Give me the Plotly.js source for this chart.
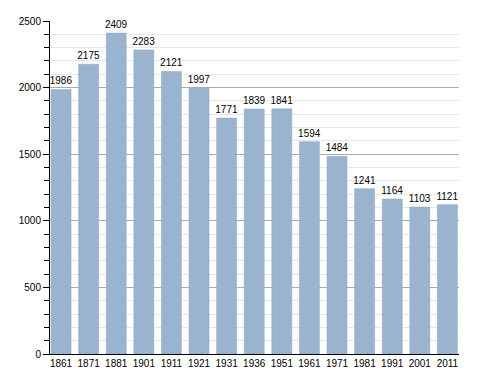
<!DOCTYPE html>
<html><head><meta charset="utf-8">
<script src="https://cdn.plot.ly/plotly-3.0.1.min.js"></script>
<style>body{margin:0}#c{width:488px;height:373px}</style>
</head><body><div id="c"></div>
<script>
const years = ["1861","1871","1881","1901","1911","1921","1931","1936","1951","1961","1971","1981","1991","2001","2011"];
const population = [1986,2175,2409,2283,2121,1997,1771,1839,1841,1594,1484,1241,1164,1103,1121];

Plotly.newPlot('c', [{
  type: 'bar',
  x: years,
  y: population,
  text: population.map(String),
  textposition: 'outside',
  constraintext: 'none',
  cliponaxis: false,
  textfont: {family: 'Liberation Sans, Arial, sans-serif', size: 10, color: '#000'},
  marker: {color: '#9ab4cf', line: {color: '#8aa5c2', width: 0.5}},
  hoverinfo: 'none'
}], {
  width: 488, height: 373,
  margin: {l: 50, r: 29, t: 21, b: 19},
  paper_bgcolor: '#fff', plot_bgcolor: '#fff',
  bargap: 0.275,
  showlegend: false,
  font: {family: 'Liberation Sans, Arial, sans-serif', size: 10, color: '#000'},
  xaxis: {
    type: 'category', range: [-0.4, 14.42],
    showline: true, linecolor: '#000', linewidth: 1,
    ticks: '', showgrid: false, tickfont: {size: 10}
  },
  yaxis: {
    range: [0, 2500], dtick: 500, tick0: 0,
    showline: true, linecolor: '#000', linewidth: 1,
    ticks: 'outside', ticklen: 6, tickcolor: '#000',
    showgrid: true, gridcolor: '#aaaaaa', gridwidth: 1,
    zeroline: false,
    tickfont: {size: 10},
    minor: {dtick: 100, ticks: 'outside', ticklen: 5, tickcolor: '#000', showgrid: true, gridcolor: '#e6e6e6', gridwidth: 1}
  }
}, {staticPlot: true});
</script></body></html>
